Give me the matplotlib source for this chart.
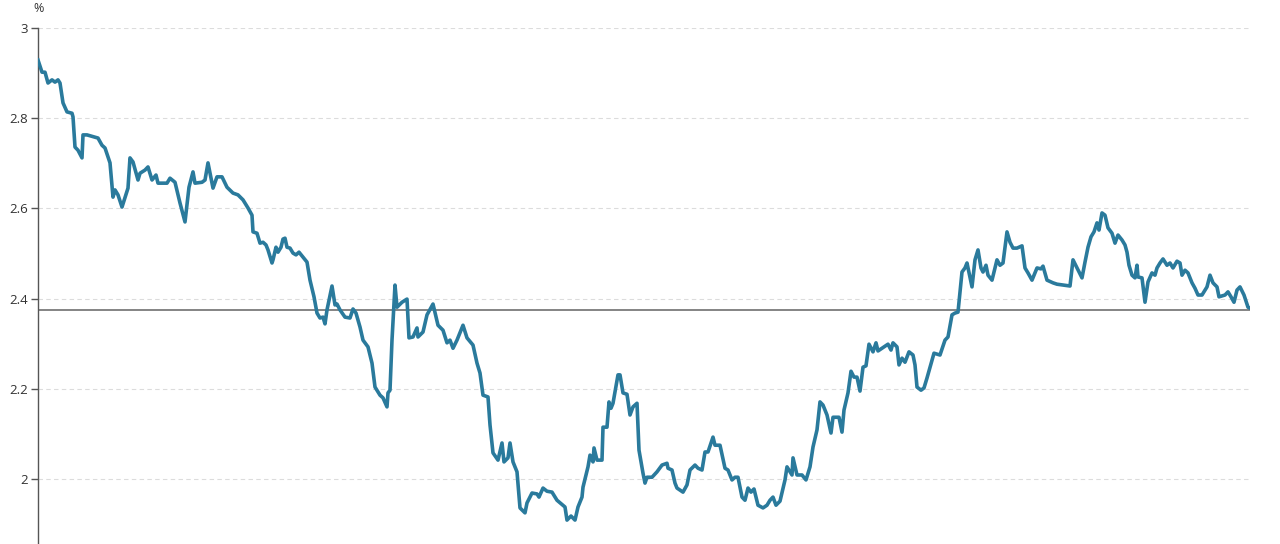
import matplotlib
matplotlib.use("Agg")
import matplotlib.pyplot as plt
from matplotlib.ticker import FuncFormatter

# observation number (left to right) and yield in %
obs = [0, 4, 7, 10, 14, 17, 20, 22, 25, 29,
       34, 35, 37, 40, 44, 45, 49, 60, 64, 67,
       72, 75, 77, 80, 84, 90, 92, 95, 100, 102,
       107, 110, 114, 118, 120, 129, 132, 137, 142, 147,
       151, 155, 157, 164, 167, 170, 175, 179, 184, 189,
       195, 200, 205, 210, 214, 215, 219, 222, 225, 228,
       230, 234, 235, 238, 240, 243, 245, 247, 249, 252,
       255, 258, 261, 265, 269, 272, 276, 279, 282, 285,
       287, 289, 294, 297, 299, 302, 307, 312, 315, 318,
       322, 325, 330, 334, 337, 342, 345, 349, 350, 352,
       354, 357, 359, 364, 369, 371, 375, 379, 380, 385,
       389, 395, 400, 405, 409, 412, 415, 419, 425, 429,
       435, 439, 442, 445, 450, 452, 455, 460, 464, 466,
       470, 472, 475, 479, 482, 487, 489, 494, 499, 501,
       505, 509, 514, 519, 527, 529, 533, 537, 540, 544,
       545, 550, 552, 555, 556, 559, 564, 565, 569, 571,
       573, 575, 580, 582, 585, 589, 592, 595, 599, 601,
       605, 607, 609, 614, 619, 624, 629, 630, 634, 637,
       639, 645, 649, 652, 657, 660, 664, 667, 670, 675,
       677, 682, 687, 690, 694, 697, 700, 704, 707, 710,
       713, 716, 720, 725, 729, 732, 735, 738, 742, 747,
       749, 754, 755, 759, 764, 768, 772, 775, 779, 782,
       785, 789, 793, 795, 801, 804, 806, 810, 813, 816,
       819, 822, 825, 828, 831, 835, 838, 840, 850, 853,
       855, 859, 861, 864, 867, 871, 875, 877, 879, 883,
       886, 889, 896, 902, 907, 910, 914, 917, 920, 924,
       927, 929, 934, 937, 940, 943, 945, 948, 950, 954,
       959, 962, 965, 969, 972, 975, 979, 984, 987, 990,
       994, 997, 999, 1003, 1005, 1009, 1015, 1019, 1032, 1035,
       1039, 1044, 1047, 1050, 1053, 1056, 1059, 1061, 1064, 1067,
       1070, 1074, 1077, 1080, 1084, 1087, 1089, 1091, 1094, 1097,
       1099, 1100, 1104, 1107, 1110, 1114, 1117, 1119, 1122, 1125,
       1129, 1132, 1135, 1139, 1142, 1144, 1147, 1150, 1154, 1157,
       1160, 1164, 1169, 1172, 1175, 1179, 1181, 1187, 1190, 1193,
       1196, 1199, 1202, 1206, 1210, 1212]

yield_pct = [2.929, 2.902, 2.902, 2.878, 2.885, 2.880, 2.885, 2.878, 2.834, 2.814,
             2.811, 2.803, 2.736, 2.729, 2.712, 2.763, 2.763, 2.756, 2.740, 2.734,
             2.701, 2.625, 2.641, 2.630, 2.603, 2.645, 2.712, 2.703, 2.663, 2.678,
             2.685, 2.692, 2.663, 2.674, 2.656, 2.656, 2.667, 2.658, 2.612, 2.570,
             2.647, 2.681, 2.656, 2.658, 2.663, 2.701, 2.645, 2.670, 2.670, 2.647,
             2.634, 2.630, 2.619, 2.601, 2.585, 2.548, 2.545, 2.523, 2.525, 2.519,
             2.508, 2.479, 2.486, 2.514, 2.503, 2.514, 2.532, 2.534, 2.514, 2.512,
             2.501, 2.497, 2.503, 2.492, 2.481, 2.441, 2.404, 2.368, 2.357, 2.359,
             2.344, 2.375, 2.428, 2.386, 2.388, 2.375, 2.359, 2.357, 2.377, 2.368,
             2.337, 2.308, 2.293, 2.257, 2.204, 2.186, 2.180, 2.160, 2.191, 2.197,
             2.308, 2.430, 2.381, 2.392, 2.399, 2.313, 2.315, 2.335, 2.315, 2.326,
             2.364, 2.388, 2.341, 2.330, 2.302, 2.308, 2.290, 2.308, 2.341, 2.313,
             2.297, 2.257, 2.235, 2.186, 2.182, 2.120, 2.058, 2.042, 2.080, 2.038,
             2.047, 2.080, 2.038, 2.016, 1.936, 1.925, 1.947, 1.969, 1.967, 1.960,
             1.980, 1.973, 1.971, 1.953, 1.938, 1.909, 1.918, 1.909, 1.938, 1.960,
             1.982, 2.027, 2.053, 2.038, 2.069, 2.042, 2.042, 2.115, 2.115, 2.171,
             2.157, 2.168, 2.231, 2.231, 2.191, 2.188, 2.142, 2.160, 2.168, 2.064,
             2.013, 1.991, 2.004, 2.004, 2.016, 2.031, 2.035, 2.024, 2.020, 1.991,
             1.980, 1.971, 1.987, 2.020, 2.031, 2.024, 2.020, 2.060, 2.060, 2.093,
             2.075, 2.075, 2.024, 2.020, 1.998, 2.004, 2.004, 1.960, 1.953, 1.980,
             1.971, 1.978, 1.942, 1.936, 1.942, 1.953, 1.960, 1.942, 1.951, 1.998,
             2.027, 2.009, 2.047, 2.009, 2.009, 1.998, 2.027, 2.071, 2.109, 2.171,
             2.164, 2.142, 2.102, 2.137, 2.137, 2.104, 2.153, 2.191, 2.239, 2.226,
             2.226, 2.195, 2.248, 2.251, 2.299, 2.282, 2.302, 2.284, 2.299, 2.286,
             2.302, 2.293, 2.253, 2.268, 2.259, 2.282, 2.275, 2.253, 2.204, 2.197,
             2.202, 2.224, 2.279, 2.275, 2.308, 2.315, 2.364, 2.368, 2.370, 2.459,
             2.468, 2.479, 2.426, 2.486, 2.508, 2.468, 2.459, 2.474, 2.452, 2.441,
             2.486, 2.474, 2.479, 2.548, 2.525, 2.512, 2.512, 2.517, 2.468, 2.457,
             2.441, 2.457, 2.468, 2.466, 2.472, 2.441, 2.435, 2.432, 2.428, 2.486,
             2.468, 2.446, 2.481, 2.514, 2.537, 2.548, 2.568, 2.552, 2.590, 2.585,
             2.557, 2.545, 2.523, 2.541, 2.530, 2.519, 2.503, 2.474, 2.452, 2.446,
             2.474, 2.448, 2.446, 2.392, 2.437, 2.457, 2.452, 2.468, 2.479, 2.488,
             2.474, 2.479, 2.468, 2.483, 2.479, 2.452, 2.463, 2.457, 2.435, 2.423,
             2.408, 2.408, 2.426, 2.452, 2.435, 2.426, 2.404, 2.408, 2.415, 2.404,
             2.392, 2.419, 2.426, 2.408, 2.381, 2.379]

reference_level = 2.375
y_ticks = [2.0, 2.2, 2.4, 2.6, 2.8, 3.0]

plt.rcParams['font.family'] = ['Open Sans', 'DejaVu Sans']

fig = plt.figure(figsize=(12.8, 5.44), dpi=100)
ax = fig.add_axes([38 / 1280, 0.0, (1250 - 38) / 1280, 1 - 28 / 544])

ax.plot(obs, yield_pct, color='#2a7a9c', linewidth=2.6, solid_joinstyle='round', zorder=3)
ax.axhline(reference_level, color='#707070', linewidth=1.2, zorder=2)

ax.set_xlim(obs[0], obs[-1])
ax.set_ylim(1.856, 3.0)
ax.set_yticks(y_ticks)
ax.yaxis.set_major_formatter(FuncFormatter(lambda v, p: f'{v:g}'))
ax.grid(True, axis='y', linestyle=(0, (4, 3)), color='#dcdcdc', linewidth=0.8)
ax.set_axisbelow(True)

for side in ('top', 'right', 'bottom'):
    ax.spines[side].set_visible(False)
ax.spines['left'].set_color('#555555')
ax.spines['left'].set_linewidth(1.0)
ax.tick_params(axis='y', direction='out', length=5, width=1, color='#555555',
               labelsize=9.5, labelcolor='#333333', pad=2)
ax.tick_params(axis='x', bottom=False, labelbottom=False)

fig.text(33 / 1280, 1 - 9 / 544, '%', ha='left', va='center', fontsize=9, color='#333333')

fig.savefig('out.png', dpi=100)
